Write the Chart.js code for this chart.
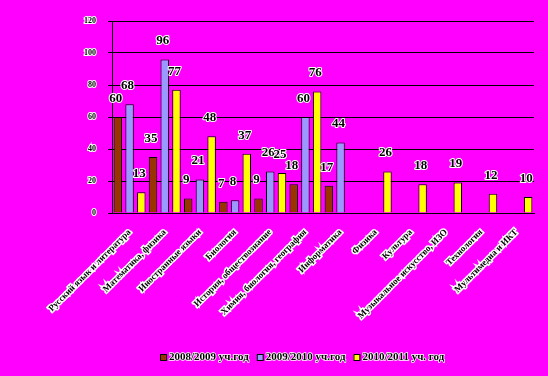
<!DOCTYPE html>
<html><head><meta charset="utf-8">
<script src="https://cdn.jsdelivr.net/npm/chart.js@4.4.1/dist/chart.umd.min.js"></script>
<style>html,body{margin:0;padding:0;background:#FF00FF;}#c{display:block;}</style>
</head><body>
<canvas id="c" width="548" height="376"></canvas>
<script>
const categories = [
  "Русский язык и литература",
  "Математика, физика",
  "Иностранные языки",
  "Биология",
  "История, обществознание",
  "Химия, биология, география",
  "Информатика",
  "Физика",
  "Культура",
  "Музыкальное искусство, ИЗО",
  "Технология",
  "Мультимедиа и ИКТ"
];
const seriesNames = ["2008/2009 уч.год", "2009/2010 уч.год", "2010/2011 уч. год"];
const s2008 = [60, 35, 9, 7, 9, 18, 17, null, null, null, null, null];
const s2009 = [68, 96, 21, 8, 26, 60, 44, null, null, null, null, null];
const s2010 = [13, 77, 48, 37, 25, 76, null, 26, 18, 19, 12, 10];
const yTicks = [0, 20, 40, 60, 80, 100, 120];
const colors = ["#993300", "#9999FF", "#FFFF00"];

const serif = "'Liberation Serif', 'DejaVu Serif', serif";

const bgPlugin = {
  id: 'bg',
  beforeDraw(chart) {
    const ctx = chart.ctx;
    ctx.save(); ctx.fillStyle = '#FF00FF'; ctx.fillRect(0, 0, chart.width, chart.height); ctx.restore();
  }
};

const valuePlugin = {
  id: 'vals',
  afterDatasetsDraw(chart) {
    const ctx = chart.ctx;
    ctx.save();
    ctx.font = "bold 13px " + serif;
    ctx.textAlign = 'center';
    ctx.textBaseline = 'bottom';
    ctx.lineJoin = 'round';
    chart.data.datasets.forEach((ds, i) => {
      const meta = chart.getDatasetMeta(i);
      meta.data.forEach((bar, j) => {
        const v = ds.data[j];
        if (v === null || v === undefined) return;
        const x = bar.x - 2, y = bar.y - 12;
        ctx.strokeStyle = '#FFFFFF'; ctx.lineWidth = 2;
        ctx.strokeText(String(v), x, y);
        ctx.fillStyle = '#000000';
        ctx.fillText(String(v), x, y);
      });
    });
    ctx.restore();
  }
};

const legendPlugin = {
  id: 'customLegend',
  afterDraw(chart) {
    const ctx = chart.ctx;
    ctx.save();
    ctx.font = "bold 11px " + serif;
    ctx.textBaseline = 'middle';
    let x = 160; const y = 357;
    chart.data.datasets.forEach((ds) => {
      ctx.fillStyle = ds.backgroundColor;
      ctx.fillRect(x, y - 3, 6, 6);
      ctx.strokeStyle = '#000'; ctx.lineWidth = 1;
      ctx.strokeRect(x + 0.5, y - 3 + 0.5, 6, 6);
      ctx.fillStyle = '#000';
      ctx.strokeStyle = '#FFF'; ctx.lineWidth = 1.5;
      ctx.strokeText(ds.label, x + 9, y);
      ctx.fillText(ds.label, x + 9, y);
      x += 9 + ctx.measureText(ds.label).width + 8;
    });
    ctx.restore();
  }
};

new Chart(document.getElementById('c'), {
  type: 'bar',
  data: {
    labels: categories,
    datasets: seriesNames.map((n, i) => ({
      label: n,
      data: [s2008, s2009, s2010][i],
      backgroundColor: colors[i],
      borderColor: '#000000',
      borderWidth: 1,
      barPercentage: 0.72,
      categoryPercentage: 1.0
    }))
  },
  options: {
    responsive: false,
    animation: false,
    devicePixelRatio: 1,
    layout: { padding: { left: 0, right: 14, top: 21, bottom: 0 } },
    plugins: { legend: { display: false }, tooltip: { enabled: false } },
    scales: {
      x: {
        grid: { display: false },
        border: { display: true, color: '#000', width: 1 },
        ticks: {
          autoSkip: false, maxRotation: 45, minRotation: 45,
          color: '#000', font: { family: serif, size: 9, weight: 'bold' },
          textStrokeColor: '#FFFFFF', textStrokeWidth: 3, padding: 6
        },
        afterFit(scale) { scale.height = 163; }
      },
      y: {
        min: 0, max: 120,
        afterBuildTicks(scale) { scale.ticks = yTicks.map(v => ({ value: v })); },
        grid: { color: '#000', lineWidth: 1, tickLength: 4, drawTicks: true },
        border: { display: true, color: '#000', width: 1 },
        ticks: {
          color: '#000', font: { family: serif, size: 8, weight: 'bold' },
          textStrokeColor: '#FFFFFF', textStrokeWidth: 2, padding: 12
        },
        afterFit(scale) { scale.width = 112; }
      }
    }
  },
  plugins: [bgPlugin, valuePlugin, legendPlugin]
});
</script>
</body></html>
